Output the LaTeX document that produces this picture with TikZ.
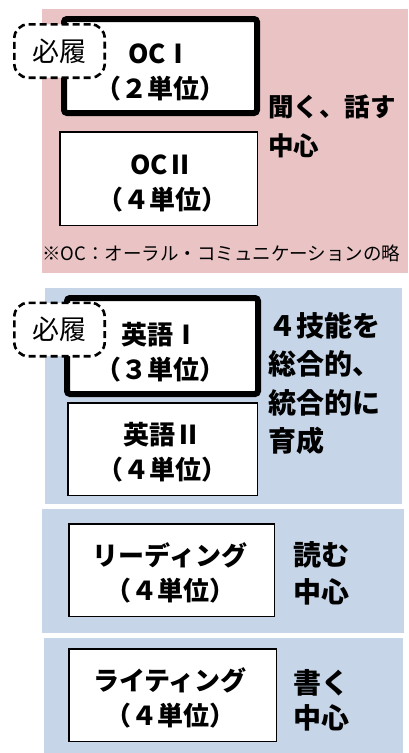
\documentclass[tikz,border=0pt]{standalone}
\usepackage{fontspec}
\setmainfont{Noto Sans CJK JP}
\definecolor{pinkbg}{RGB}{234,196,197}
\definecolor{bluebg}{RGB}{198,214,232}
\begin{document}
\begin{tikzpicture}[x=1pt,y=-1pt,
  panel/.style={draw=none, inner sep=0pt, anchor=north west},
  thickbox/.style={draw=black, line width=6pt, rounded corners=3pt, fill=white, inner sep=0pt},
  thinbox/.style={draw=black, line width=1.5pt, fill=white, inner sep=0pt},
  boxtext/.style={font=\bfseries\fontsize{26}{35}\selectfont, align=center, inner sep=0pt},
  mustbox/.style={draw=black, line width=2.6pt, dash pattern=on 7pt off 4pt,
    rounded corners=14pt, fill=white, font=\fontsize{27}{30}\selectfont,
    minimum width=90.4pt, minimum height=53.4pt, inner sep=0pt},
  side/.style={font=\bfseries\fontsize{28}{38.5}\selectfont, align=left,
    anchor=west, inner sep=0pt},
  note/.style={font=\fontsize{18.5}{22}\selectfont, anchor=west, inner sep=0pt}
]
\useasboundingbox (0,0) rectangle (408,753);
% panels
\node[panel, fill=pinkbg, minimum width=366pt, minimum height=264pt] (pinkpanel) at (42,9) {};
\node[panel, fill=bluebg, minimum width=357pt, minimum height=216pt] (bluepanelA) at (45,288) {};
\node[panel, fill=bluebg, minimum width=362pt, minimum height=124pt] (bluepanelB) at (42,509) {};
\node[panel, fill=bluebg, minimum width=359pt, minimum height=115pt] (bluepanelC) at (44,638) {};
% OC boxes
\node[thickbox, minimum width=193pt, minimum height=94pt] (oc1) at (160.5,66) {};
\node[boxtext] (oc1text) at (160,72) {OCⅠ\\（２単位）};
\node[thinbox, minimum width=197.5pt, minimum height=93.5pt] (oc2) at (158.5,178.5) {};
\node[boxtext] (oc2text) at (162,183.5) {OCⅡ\\（４単位）};
\node[mustbox] (must1) at (59.5,51) {必履};
\node[side, font=\bfseries\fontsize{25.5}{39}\selectfont] (listen) at (268,126.5) {聞く、話す\\中心};
\node[note] (footnote) at (42,253) {※OC：オーラル・コミュニケーションの略};
% English boxes
\node[thickbox, minimum width=191pt, minimum height=96pt] (eng1) at (162.5,346) {};
\node[boxtext] (eng1text) at (160,352) {英語Ⅰ\\（３単位）};
\node[thinbox, minimum width=189.5pt, minimum height=92.5pt] (eng2) at (162.5,449) {};
\node[boxtext] (eng2text) at (162,452.5) {英語Ⅱ\\（４単位）};
\node[mustbox] (must2) at (59.5,329.5) {必履};
\node[side] (four) at (268,383.5) {４技能を\\総合的、\\統合的に\\育成};
% Reading
\node[thinbox, minimum width=205.5pt, minimum height=92.5pt] (reading) at (171.5,570) {};
\node[boxtext] (readingtext) at (170,572.5) {リーディング\\（４単位）};
\node[side, font=\bfseries\fontsize{28}{37}\selectfont] (read) at (293,573.5) {読む\\中心};
% Writing
\node[thinbox, minimum width=207.5pt, minimum height=92.5pt] (writing) at (172.5,695) {};
\node[boxtext] (writingtext) at (170,697.5) {ライティング\\（４単位）};
\node[side, font=\bfseries\fontsize{28}{35}\selectfont] (write) at (293,700.5) {書く\\中心};
\end{tikzpicture}
\end{document}
